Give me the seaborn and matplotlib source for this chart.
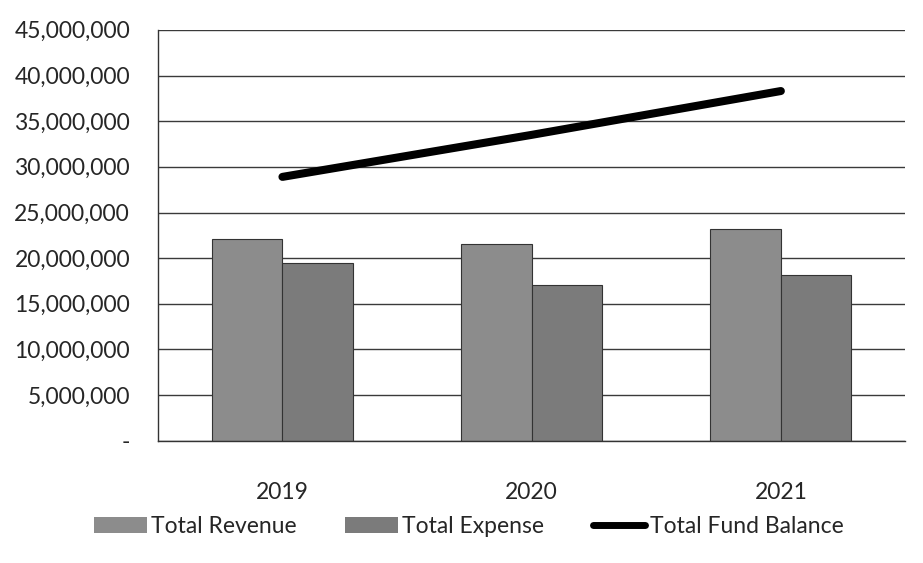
import pandas as pd
import numpy as np
import seaborn as sns
import matplotlib.pyplot as plt
from matplotlib.ticker import FuncFormatter, FixedLocator
from matplotlib.patches import Patch
from matplotlib.lines import Line2D

years = ['2019', '2020', '2021']
revenue = [22100000, 21600000, 23200000]
expense = [19500000, 17100000, 18200000]
fund_balance = [28900000, 33500000, 38300000]

df = pd.DataFrame({
    'Year': years * 2,
    'Amount': revenue + expense,
    'Series': ['Total Revenue'] * 3 + ['Total Expense'] * 3,
})

sns.set_style('white')
plt.rcParams['font.family'] = ['Lato', 'DejaVu Sans']

fig = plt.figure(figsize=(9.23, 5.63), dpi=100)
ax = fig.add_axes([0.171, 0.217, 0.81, 0.73])

bar_colors = {'Total Revenue': '#8c8c8c', 'Total Expense': '#7b7b7b'}
sns.barplot(data=df, x='Year', y='Amount', hue='Series', palette=bar_colors,
            width=0.565, edgecolor='#333333', linewidth=0.8, saturation=1,
            legend=False, ax=ax)

# fund balance line over the category positions
sns.lineplot(x=np.arange(len(years)), y=fund_balance, color='black',
             linewidth=5.8, solid_capstyle='round', ax=ax)

ax.set_xlim(-0.5, 2.5)
ax.set_ylim(0, 45000000)
ax.set_yticks(np.arange(0, 45000001, 5000000))
ax.yaxis.set_major_formatter(FuncFormatter(lambda v, p: '-' if v == 0 else f'{v:,.0f}'))
ax.grid(axis='y', color='#3a3a3a', linewidth=1)
ax.set_axisbelow(True)

ax.xaxis.set_minor_locator(FixedLocator([-0.5, 0.5, 1.5, 2.5]))
ax.tick_params(axis='x', which='major', length=0, pad=30, labelsize=16.5)
ax.tick_params(axis='x', which='minor', length=8, width=1, color='#333333', direction='out')
ax.tick_params(axis='y', length=6, width=1, color='#333333', direction='out', labelsize=16.5, pad=14)
ax.set_xlabel('')
ax.set_ylabel('')

for s in ['top', 'right']:
    ax.spines[s].set_visible(False)
for s in ['left', 'bottom']:
    ax.spines[s].set_color('#333333')
    ax.spines[s].set_linewidth(1)

handles = [Patch(facecolor=bar_colors['Total Revenue'], edgecolor='none'),
           Patch(facecolor=bar_colors['Total Expense'], edgecolor='none'),
           Line2D([0], [0], color='black', linewidth=5, solid_capstyle='round')]
fig.legend(handles, ['Total Revenue', 'Total Expense', 'Total Fund Balance'],
           loc='center', bbox_to_anchor=(0.508, 0.064), ncol=3, frameon=False,
           fontsize=16.5, handlelength=2.3, handleheight=0.7, columnspacing=2.1,
           handletextpad=0.2)

fig.savefig('out.png', dpi=100)
